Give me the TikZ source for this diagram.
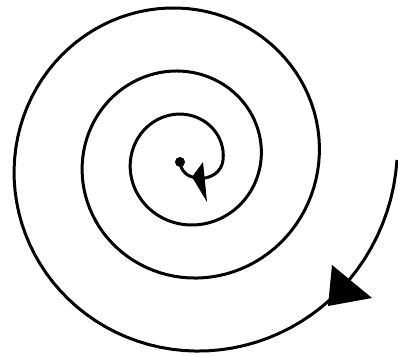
\documentclass[tikz,border=0pt]{standalone}
\begin{document}
\begin{tikzpicture}[x=1pt,y=-1pt]
\tikzset{spiralline/.style={line width=3pt, line join=round}}
\useasboundingbox (0,0) rectangle (398,356);
\coordinate (start) at (180,162);
\coordinate (hookend) at (223,160);
\draw[spiralline] (start) .. controls (181,172) and (188,177) .. (197,178) .. controls (210,180) and (222,172) .. (hookend) -- plot[domain=360:1440,samples=300,variable=\p] ({185+(20+8*\p/360+10*(\p/360)^2)*cos(\p)},{160-(20+8*\p/360+10*(\p/360)^2)*sin(\p)});
\fill (start) circle (5pt);
\fill (203,162) -- (207,202) -- (192,177) -- cycle;
\fill (332,265) -- (372,298) -- (328,306) -- cycle;
\end{tikzpicture}
\end{document}
